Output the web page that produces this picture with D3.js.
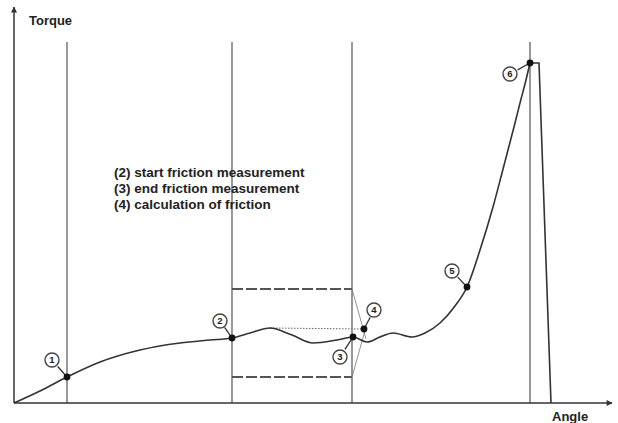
<!DOCTYPE html>
<html>
<head>
<meta charset="utf-8">
<script src="https://cdn.jsdelivr.net/npm/d3@7"></script>
<style>
  body { margin: 0; background: #fff; }
  svg { display: block; }
  text { font-family: "Liberation Sans", Arial, sans-serif; fill: #222; }
</style>
</head>
<body>
<svg id="chart"></svg>
<script>
// Values (arbitrary units, no ticks on the original)
const curveAngle = [0, 26, 53, 86, 126, 166, 196, 218, 236, 256, 278, 299, 323, 339, 353, 366, 379, 398, 411, 426, 441, 453, 466, 479, 488, 494, 501, 506, 512, 516];
const curveTorque = [0, 12, 26, 41, 53, 60, 63, 65, 70, 75, 68, 60, 63, 66, 61, 66, 70, 66, 70, 80, 97, 116, 153, 196, 230, 253, 280, 300, 323, 340];
const dropAngle = [516, 525, 537];
const dropTorque = [340, 340, 0];
const markerAngle = [53, 218, 338, 516];
const bandAngle = [218, 338];
const bandTorque = [26, 114];
const convergeAngle = 350;
const convergeTorque = 70;
const frictionRef = { angle: [256, 350], torque: [75, 74] };
const pointLabels = ["1", "2", "3", "4", "5", "6"];
const pointAngle = [53, 218, 339, 350, 453, 516];
const pointTorque = [26, 65, 66, 74, 116, 340];
const legendLines = ["(2) start friction measurement", "(3) end friction measurement", "(4) calculation of friction"];

const width = 618, height = 423;
const svg = d3.select("#chart").attr("width", width).attr("height", height);

const x = d3.scaleLinear().domain([0, 598]).range([14, 612]);
const y = d3.scaleLinear().domain([0, 388]).range([403, 15]);

// arrow heads
const defs = svg.append("defs");
defs.append("marker")
  .attr("id", "arrow")
  .attr("viewBox", "0 0 10 10")
  .attr("refX", 9).attr("refY", 5)
  .attr("markerWidth", 9).attr("markerHeight", 6)
  .attr("markerUnits", "userSpaceOnUse")
  .attr("orient", "auto")
  .append("path").attr("d", "M0,0 L10,5 L0,10 z").attr("fill", "#333");

// vertical marker lines
svg.selectAll(".vline")
  .data(markerAngle)
  .enter()
  .append("line")
  .attr("x1", (d) => x(d)).attr("x2", (d) => x(d))
  .attr("y1", y(0)).attr("y2", y(361))
  .attr("stroke", "#444").attr("stroke-width", 1.1);

// friction band (dashed)
svg.selectAll(".band")
  .data(bandTorque)
  .enter()
  .append("line")
  .attr("x1", x(bandAngle[0])).attr("x2", x(bandAngle[1]))
  .attr("y1", (d) => y(d)).attr("y2", (d) => y(d))
  .attr("stroke", "#555").attr("stroke-width", 1.8)
  .attr("stroke-dasharray", "11,3");

// converging lines to point 4
svg.selectAll(".diag")
  .data(bandTorque)
  .enter()
  .append("line")
  .attr("x1", x(bandAngle[1])).attr("y1", (d) => y(d))
  .attr("x2", x(convergeAngle + 2)).attr("y2", (d, i) => y(convergeTorque + (i ? -6 : 6)))
  .attr("stroke", "#777").attr("stroke-width", 0.8);

// dotted reference line
svg.append("line")
  .attr("x1", x(frictionRef.angle[0])).attr("x2", x(frictionRef.angle[1]))
  .attr("y1", y(frictionRef.torque[0])).attr("y2", y(frictionRef.torque[1]))
  .attr("stroke", "#666").attr("stroke-width", 1)
  .attr("stroke-dasharray", "1.5,1.5");

// axes
svg.append("line")
  .attr("x1", x(0)).attr("y1", y(0)).attr("x2", x(0)).attr("y2", 7)
  .attr("stroke", "#333").attr("stroke-width", 1.5)
  .attr("marker-end", "url(#arrow)");
svg.append("line")
  .attr("x1", x(0)).attr("y1", y(0)).attr("x2", 612).attr("y2", y(0))
  .attr("stroke", "#333").attr("stroke-width", 1.5)
  .attr("marker-end", "url(#arrow)");

// torque curve
const line = d3.line()
  .x((d, i) => x(curveAngle[i]))
  .y((d, i) => y(curveTorque[i]))
  .curve(d3.curveMonotoneX);
svg.append("path")
  .attr("d", line(curveAngle))
  .attr("fill", "none").attr("stroke", "#333").attr("stroke-width", 1.6);

const drop = d3.line()
  .x((d, i) => x(dropAngle[i]))
  .y((d, i) => y(dropTorque[i]));
svg.append("path")
  .attr("d", drop(dropAngle))
  .attr("fill", "none").attr("stroke", "#333").attr("stroke-width", 1.6);

// numbered points
const labelDx = [-15, -12, -13, 10, -15, -20];
const labelDy = [-17, -17, 20, -19, -16, 11];
const pts = svg.selectAll(".pt")
  .data(pointLabels)
  .enter()
  .append("g")
  .attr("transform", (d, i) => `translate(${x(pointAngle[i])},${y(pointTorque[i])})`);

pts.append("line")
  .attr("x1", 0).attr("y1", 0)
  .attr("x2", (d, i) => labelDx[i] * 0.62)
  .attr("y2", (d, i) => labelDy[i] * 0.62)
  .attr("stroke", "#333").attr("stroke-width", 1.3);
pts.append("circle")
  .attr("r", 3.4).attr("fill", "#111");
pts.append("circle")
  .attr("cx", (d, i) => labelDx[i]).attr("cy", (d, i) => labelDy[i])
  .attr("r", 7).attr("fill", "#fff").attr("stroke", "#444").attr("stroke-width", 1.4);
pts.append("text")
  .attr("x", (d, i) => labelDx[i]).attr("y", (d, i) => labelDy[i] + 3.3)
  .attr("text-anchor", "middle")
  .style("font-size", "9.5px").style("font-weight", "bold")
  .text((d) => d);

// axis titles
svg.append("text")
  .attr("x", 29).attr("y", 25)
  .style("font-size", "13px").style("font-weight", "bold")
  .text("Torque");
svg.append("text")
  .attr("x", 552).attr("y", 421)
  .style("font-size", "13px").style("font-weight", "bold")
  .text("Angle");

// legend text
svg.selectAll(".legend")
  .data(legendLines)
  .enter()
  .append("text")
  .attr("x", 114)
  .attr("y", (d, i) => 177 + i * 16)
  .style("font-size", "13.5px").style("font-weight", "bold")
  .text((d) => d);
</script>
</body>
</html>
